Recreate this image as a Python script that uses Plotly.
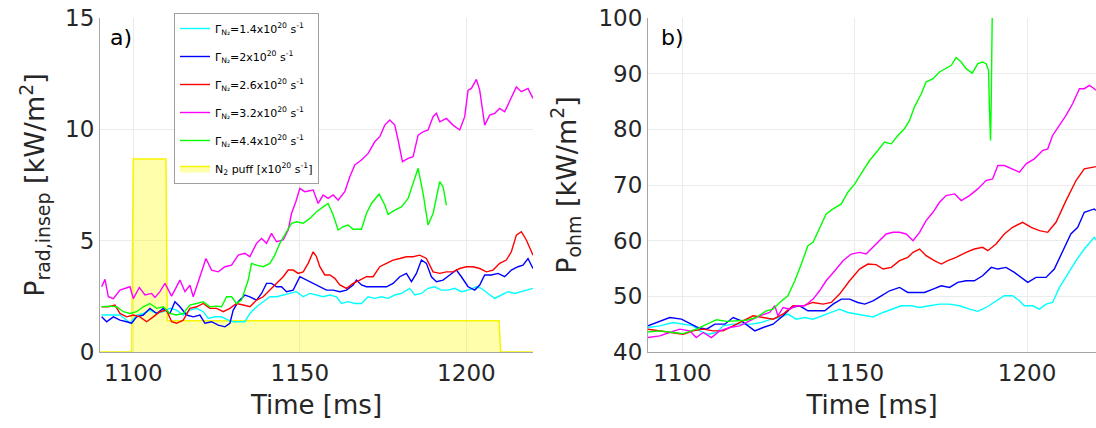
import plotly.graph_objects as go

# ---------------- data ----------------
# Panel a) P_rad,insep [kW/m^2]  : (time ms, value)
rad_14 = [(1090.5,1.66),(1093,1.66),(1096,1.66),(1098,1.43),(1099,1.29),(1101,1.66),(1103,1.73),(1105,1.88),(1107,1.73),(1109,1.81),
          (1111,1.96),(1113,1.88),(1115,1.66),(1117,1.88),(1119,1.96),(1121,1.81),(1122.5,1.51),(1124.5,1.58),(1126.5,1.58),(1128.5,1.43),
          (1130,1.36),(1132,1.36),(1133.5,1.36),(1135,1.73),(1137,2.03),(1139,2.26),(1141,2.48),(1143,2.48),(1145,2.56),(1147,2.63),
          (1149,2.71),(1151,2.48),(1153,2.63),(1155,2.56),(1157,2.48),(1159,2.56),(1161,2.48),(1162.5,2.18),(1164.5,2.26),(1166.5,2.18),
          (1168.5,2.18),(1170.5,2.48),(1172.5,2.41),(1174.5,2.48),(1176.5,2.41),(1178.5,2.56),(1180.5,2.63),(1183,2.86),(1184.5,2.56),(1186.5,2.63),
          (1188.5,2.86),(1190.5,2.93),(1192.5,2.78),(1194.5,2.78),(1196.5,2.86),(1198.5,2.71),(1200.5,2.78),(1203,2.93),(1204.5,2.86),(1206.5,2.63),
          (1208.5,2.41),(1210.5,2.56),(1212.5,2.71),(1214.5,2.63),(1216.5,2.71),(1218.5,2.78),(1220,2.86)]
rad_20 = [(1090.5,1.58),(1092,1.36),(1094,1.58),(1096,1.43),(1098,1.36),(1099.5,1.29),(1101,1.58),(1103,1.66),(1105,1.96),(1107,1.73),
          (1109,1.96),(1111,1.73),(1112.5,2.26),(1114,2.03),(1116,1.66),(1118,1.58),(1120,1.66),(1121.5,1.29),(1123.5,1.36),(1125.5,1.21),
          (1127.5,1.13),(1129,1.29),(1130,1.88),(1131.5,2.26),(1133.5,2.56),(1135,2.48),(1137,2.33),(1138.5,2.63),(1140,3.08),(1141.5,3.08),
          (1143,2.93),(1144.5,2.93),(1146,2.71),(1148,2.78),(1150,3.38),(1152,3.23),(1154,3.08),(1156,2.93),(1158,2.78),(1160,2.78),
          (1162,2.71),(1164,2.78),(1166,3.01),(1167,3.23),(1168.5,3.01),(1170,2.93),(1172,2.93),(1174,2.9),(1176,2.93),(1178,3.08),
          (1180,3.38),(1182,3.53),(1183.5,3.16),(1185,3.53),(1186.5,4.13),(1188,3.98),(1189.5,3.38),(1191,3.16),(1193,3.23),(1195,3.46),
          (1197,3.68),(1198.5,3.38),(1200.5,2.93),(1202.5,2.78),(1204,3.01),(1205.5,3.46),(1207.5,3.46),(1209.5,3.53),(1211.5,3.38),(1213.5,3.68),
          (1215.5,3.83),(1217,3.9),(1218.5,4.2),(1220,3.75)]
rad_26 = [(1090.5,2.03),(1092.5,2.03),(1094.5,2.11),(1096,1.73),(1098,1.58),(1100,1.66),(1102,1.58),(1104,1.36),(1106,1.58),(1108,1.81),
          (1110,1.88),(1111.5,1.36),(1113,1.29),(1115,1.43),(1117,1.96),(1119,2.03),(1121,2.18),(1123,1.96),(1125,1.96),(1127,1.81),
          (1129,1.96),(1131,2.18),(1133,2.11),(1135,2.03),(1137,2.33),(1139,2.48),(1141,2.78),(1143,3.08),(1145,3.38),(1146.5,3.68),
          (1148,3.68),(1149.5,3.53),(1151,3.6),(1152.5,3.98),(1154,4.5),(1155,4.28),(1156,3.83),(1157.5,3.46),(1159,3.46),(1160.5,3.31),
          (1162,3.01),(1164,2.86),(1166,3.08),(1168,3.23),(1170,3.38),(1172,3.38),(1174,3.83),(1176,3.98),(1178,4.13),(1180,4.2),
          (1182,4.28),(1184,4.28),(1186,4.35),(1188,4.2),(1190,3.6),(1192,3.53),(1194,3.6),(1196,3.6),(1198,3.75),(1200,3.83),
          (1202,3.83),(1204,3.75),(1206,3.6),(1208,3.68),(1210,3.98),(1212,4.13),(1213.5,4.5),(1215,5.25),(1216.5,5.4),(1218,5.03),(1220,4.35)]
rad_32 = [(1090.5,2.93),(1091.5,3.26),(1092.5,2.48),(1094,2.4),(1096,2.78),(1098,2.86),(1099,2.93),(1100,2.4),(1101.8,2.9),(1103.5,2.56),
          (1105.5,2.63),(1106.5,2.45),(1108,2.71),(1109.5,3.08),(1111.5,2.51),(1114,3.23),(1115.5,2.71),(1117,3.0),(1118,2.48),(1120,3.38),
          (1121.8,4.2),(1123.5,3.68),(1125.5,3.6),(1127.5,3.83),(1129.5,3.9),(1131.5,4.35),(1133.5,4.43),(1135,4.28),(1137,4.88),(1138.5,5.1),
          (1140,4.88),(1141.5,5.33),(1143,4.95),(1145,5.03),(1146.5,5.48),(1147.5,6.22),(1148.8,6.75),(1150,7.35),(1151.5,7.2),(1154,7.27),
          (1155.5,6.67),(1157,7.05),(1158.5,6.9),(1160,7.05),(1161.5,6.82),(1163.5,7.2),(1165,7.87),(1166.5,8.4),(1168.5,8.62),(1170.5,8.92),
          (1172.5,9.44),(1174,9.67),(1175.5,10.19),(1177,10.42),(1178.5,10.19),(1179.5,9.52),(1180.8,8.55),(1182.5,8.7),(1184,8.77),(1185.5,9.74),
          (1187,9.89),(1188.5,9.97),(1190,10.57),(1191,10.72),(1192,10.34),(1194,10.49),(1196,10.19),(1198,9.97),(1199.5,10.57),(1200.5,11.76),
          (1201.5,11.84),(1203,12.24),(1204,11.76),(1205.5,10.19),(1207,10.64),(1208.5,10.72),(1210,10.94),(1211.5,10.79),(1213,11.24),(1215,11.9),
          (1216.5,11.69),(1218.5,11.84),(1220,11.39)]
rad_44 = [(1090.5,2.03),(1093,2.06),(1095,2.03),(1097,1.81),(1099,1.73),(1101,1.81),(1103,2.03),(1105,2.18),(1107,1.96),(1109,2.03),
          (1111,1.73),(1113,1.66),(1115,1.73),(1117,2.11),(1119,2.18),(1121,2.26),(1123,2.03),(1125,2.06),(1126.5,2.03),(1128,2.48),
          (1129.5,2.48),(1131,2.18),(1132.5,2.33),(1133.5,2.78),(1134.5,3.23),(1135.5,3.98),(1137,3.9),(1139,3.83),(1141,3.98),(1142.5,4.35),
          (1144,4.88),(1146,5.4),(1147.5,5.78),(1149,5.85),(1151,5.78),(1153,6.0),(1155,6.3),(1157,6.52),(1158.5,6.67),(1160,6.15),
          (1161.5,5.48),(1163,5.63),(1164.5,5.7),(1166,5.51),(1168.5,5.51),(1170,6.22),(1171.5,6.67),(1173.8,7.09),(1175.5,6.6),(1176.5,6.18),
          (1178.5,6.37),(1180.5,6.52),(1182.5,6.9),(1184,7.57),(1185.5,8.25),(1187,7.12),(1188.5,5.7),(1190,6.22),(1192,7.65),(1193,7.42),(1194,6.6)]
# N2 puff waveform [x10^20 s^-1]
puff_t = [1090, 1099.5, 1100, 1109.8, 1110.2, 1209.8, 1210.3, 1220]
puff_v = [0, 0, 8.67, 8.67, 1.4, 1.4, 0, 0]

# Panel b) P_ohm [kW/m^2]
ohm_14 = [(1090,44.4),(1093.4,44.7),(1097.3,45.3),(1100.2,45.0),(1103.1,44.7),(1105,43.8),(1107.4,43.2),(1109.9,43.5),(1111.8,44.7),(1114.7,45.0),
          (1117.6,45.0),(1120,45.0),(1122.9,45.3),(1125.8,45.9),(1128.2,46.2),(1130.6,46.8),(1133,45.9),(1135.5,46.2),(1137.9,45.9),(1140.3,46.5),
          (1142.7,47.1),(1145.6,47.7),(1148,47.1),(1150.4,46.8),(1152.9,46.5),(1155.3,46.3),(1158.2,47.1),(1160.6,47.7),(1163.5,48.3),(1166.4,48.3),
          (1168.8,48.0),(1171.7,48.3),(1174.6,48.6),(1177.5,48.6),(1180.4,48.3),(1183.3,47.7),(1185.7,47.3),(1188.1,48.0),(1190.5,48.9),(1193.4,50.1),
          (1195.8,50.1),(1197.8,49.2),(1199.2,48.3),(1201.6,48.3),(1203.6,47.7),(1205.5,48.6),(1207.4,48.9),(1209.4,51.6),(1211.8,54.0),(1214.2,56.4),
          (1216.6,58.5),(1219.5,60.6),(1220,60.2)]
ohm_20 = [(1090,44.7),(1092.5,45.3),(1096.3,46.2),(1099.7,45.9),(1101.6,45.3),(1104.5,44.4),(1107,44.1),(1109.4,45.0),(1112.3,45.0),(1114.7,46.2),
          (1117.1,45.6),(1119,44.7),(1121,43.8),(1123.4,44.4),(1126.3,45.0),(1129.2,46.5),(1131.6,48.0),(1134,48.3),(1136.4,47.4),(1138.8,47.4),
          (1141.3,47.4),(1143.7,48.6),(1146.1,49.5),(1148.5,49.5),(1150.9,48.9),(1152.9,48.6),(1155.3,49.2),(1157.7,50.1),(1160.1,51.0),(1163,51.6),
          (1165.4,50.7),(1167.8,50.7),(1170.2,50.7),(1172.7,51.3),(1175.1,51.9),(1177.5,51.6),(1179.9,52.5),(1182.3,52.8),(1184.7,52.8),(1187.1,53.7),
          (1189.6,55.2),(1191.5,54.9),(1193.9,55.2),(1196.3,54.3),(1198.7,53.1),(1200.2,52.5),(1202.6,53.4),(1205.5,53.4),(1207.9,54.9),(1210.3,57.9),
          (1212.7,61.2),(1214.7,62.4),(1216.6,65.1),(1219.5,65.7),(1220,65.4)]
ohm_26 = [(1090,44.1),(1093.4,43.8),(1097.3,43.5),(1100.2,43.2),(1103.1,43.8),(1106,44.1),(1108.9,43.8),(1111.8,43.8),(1114.7,44.7),(1117.6,45.6),
          (1120.5,46.5),(1123.4,46.2),(1126.3,45.9),(1129.2,46.8),(1132.1,48.3),(1135,48.3),(1137.9,48.9),(1140.8,48.6),(1143.2,48.9),(1145.6,50.4),
          (1148.5,52.8),(1151.4,54.9),(1153.8,55.8),(1156.2,55.7),(1158.2,54.9),(1160.6,55.2),(1163,56.4),(1165.4,57.0),(1166.9,57.9),(1168.8,58.5),
          (1170.7,57.3),(1173.1,56.4),(1175.1,55.8),(1177,56.4),(1179.4,57.0),(1182.3,57.9),(1184.7,58.5),(1187.1,58.8),(1188.6,58.2),(1191,59.4),
          (1193.4,61.2),(1195.8,62.4),(1198.7,63.3),(1201.2,62.4),(1203.6,61.8),(1206,61.5),(1208.4,63.3),(1211.3,67.2),(1214.2,70.8),(1216.6,72.9),
          (1219.5,73.2),(1220,73.3)]
ohm_32 = [(1090,42.6),(1093.4,42.9),(1096.3,43.5),(1099.2,44.1),(1102.1,43.8),(1104,42.6),(1106,43.5),(1108.4,42.6),(1110.8,43.8),(1113.7,44.4),
          (1116.6,44.7),(1119.5,45.6),(1122.4,46.5),(1125.3,47.1),(1126.8,48.3),(1127.7,46.5),(1129.2,48.0),(1131.1,47.7),(1133,48.3),(1135.5,48.3),
          (1137.9,49.5),(1139.8,51.0),(1141.7,52.8),(1144.2,54.6),(1146.6,56.4),(1149,57.6),(1151.4,57.9),(1153.3,57.6),(1155.3,58.8),(1157.2,60.0),
          (1159.1,61.2),(1161.1,61.5),(1163,61.5),(1164.9,61.2),(1166.9,60.0),(1168.8,61.5),(1170.7,63.6),(1172.7,65.1),(1174.6,66.9),(1176.5,68.1),
          (1179,68.4),(1180.9,67.2),(1183.3,68.1),(1185.7,69.3),(1188.1,70.8),(1190,71.1),(1191.5,73.5),(1193.4,73.5),(1195.8,72.9),(1197.8,72.3),
          (1199.7,73.8),(1202.1,74.7),(1204.5,76.2),(1206,76.5),(1207.4,78.9),(1209.4,80.7),(1211.3,82.5),(1213.2,84.6),(1215.2,87.3),(1216.6,87.3),
          (1218.1,87.9),(1219.5,87.3),(1220,87.0)]
ohm_44 = [(1090,43.6),(1093.4,43.8),(1097.3,43.5),(1100.2,43.3),(1104,44.1),(1107,45.0),(1109.9,45.8),(1112.8,45.5),(1115.7,45.6),(1118.6,45.7),
          (1121.4,46.2),(1124.3,47.4),(1126.3,47.7),(1128.2,48.9),(1130.6,50.1),(1132.6,52.8),(1134.5,55.8),(1136.4,59.1),(1137.9,59.7),(1139.8,62.4),
          (1141.7,64.8),(1143.7,65.7),(1146.1,66.6),(1148,68.7),(1150,70.2),(1152.4,72.6),(1154.3,74.4),(1156.7,76.2),(1158.6,77.7),(1160.6,77.4),
          (1162.5,78.9),(1164.4,80.1),(1165.9,81.6),(1167.3,84.0),(1169.3,86.4),(1170.7,88.5),(1172.7,89.1),(1174.6,90.3),(1176.5,90.9),(1178,91.5),
          (1179.4,92.9),(1180.9,92.1),(1182.3,90.9),(1184.1,90.1),(1185.7,91.8),(1187.1,92.1),(1188.1,91.8),(1188.8,90.6),(1189.1,83.4),(1189.4,78.0),
          (1189.6,85.2),(1189.9,101.0)]

labels = ["Γ<sub>N₂</sub>=1.4x10<sup>20</sup> s<sup>-1</sup>",
          "Γ<sub>N₂</sub>=2x10<sup>20</sup> s<sup>-1</sup>",
          "Γ<sub>N₂</sub>=2.6x10<sup>20</sup> s<sup>-1</sup>",
          "Γ<sub>N₂</sub>=3.2x10<sup>20</sup> s<sup>-1</sup>",
          "Γ<sub>N₂</sub>=4.4x10<sup>20</sup> s<sup>-1</sup>"]
puff_label = "N<sub>2</sub> puff [x10<sup>20</sup> s<sup>-1</sup>]"
colors = ["#00ffff", "#0000ff", "#ff0000", "#ff00ff", "#00ff00"]

rad_series = [rad_14, rad_20, rad_26, rad_32, rad_44]
ohm_series = [ohm_14, ohm_20, ohm_26, ohm_32, ohm_44]

# ---------------- figure ----------------
W, H = 1096, 428
FONT = "DejaVu Sans"
TXT = "#262626"

fig = go.Figure()

fig.add_trace(go.Scatter(x=puff_t, y=puff_v, name=puff_label, mode="lines",
                         line=dict(color="#f5f500", width=1.5), fill="tozeroy",
                         fillcolor="rgba(255,255,0,0.33)", xaxis="x", yaxis="y",
                         legendrank=6, legendgroup="g6"))

for i, (ser, lab, col) in enumerate(zip(rad_series, labels, colors)):
    fig.add_trace(go.Scatter(x=[p[0] for p in ser], y=[p[1] for p in ser], name=lab,
                             mode="lines", line=dict(color=col, width=1.4),
                             xaxis="x", yaxis="y", legendrank=i + 1, legendgroup=f"g{i+1}"))

for i, (ser, col) in enumerate(zip(ohm_series, colors)):
    fig.add_trace(go.Scatter(x=[p[0] for p in ser], y=[p[1] for p in ser], name=labels[i],
                             mode="lines", line=dict(color=col, width=1.4), showlegend=False,
                             xaxis="x2", yaxis="y2", legendgroup=f"g{i+1}"))

axis_common = dict(showgrid=True, gridcolor="#ebebeb", gridwidth=1, zeroline=False,
                   showline=True, linecolor="#a6a6a6", linewidth=1, ticks="",
                   automargin=False,
                   tickfont=dict(family=FONT, size=23, color=TXT))
xcommon = dict(axis_common, range=[1090, 1220], tickvals=[1100, 1150, 1200],
               title=dict(text="Time [ms]", font=dict(family=FONT, size=26, color=TXT), standoff=11))

ydom = [1 - 352 / H, 1 - 18 / H]
fig.update_layout(
    width=W, height=H, margin=dict(l=0, r=0, t=0, b=0),
    paper_bgcolor="white", plot_bgcolor="white",
    xaxis=dict(xcommon, domain=[100 / W, 533 / W], anchor="y"),
    yaxis=dict(axis_common, domain=ydom, range=[0, 15], tickvals=[0, 5, 10, 15], anchor="x",
               title=dict(text="P<sub>rad,insep</sub> [kW/m<sup>2</sup>]",
                          font=dict(family=FONT, size=27, color=TXT), standoff=12)),
    xaxis2=dict(xcommon, domain=[648 / W, 1.0], anchor="y2"),
    yaxis2=dict(axis_common, domain=ydom, range=[40, 100], tickvals=[40, 50, 60, 70, 80, 90, 100],
                anchor="x2",
                title=dict(text="P<sub>ohm</sub> [kW/m<sup>2</sup>]",
                           font=dict(family=FONT, size=27, color=TXT), standoff=14)),
    legend=dict(x=174 / W, y=1 - 13 / H, xanchor="left", yanchor="top",
                bgcolor="white", bordercolor="#a0a0a0", borderwidth=1,
                font=dict(family=FONT, size=11, color="black"),
                tracegroupgap=9, itemwidth=30),
    annotations=[
        dict(text="a)", x=108 / W, y=1 - 38 / H, xref="paper", yref="paper",
             xanchor="left", yanchor="middle", showarrow=False,
             font=dict(family=FONT, size=22, color="black")),
        dict(text="b)", x=659 / W, y=1 - 37 / H, xref="paper", yref="paper",
             xanchor="left", yanchor="middle", showarrow=False,
             font=dict(family=FONT, size=22, color="black")),
    ],
)

fig.write_html("out.html", config={"displayModeBar": False},
               post_script="document.body.style.margin='0';document.body.style.overflow='hidden';")
